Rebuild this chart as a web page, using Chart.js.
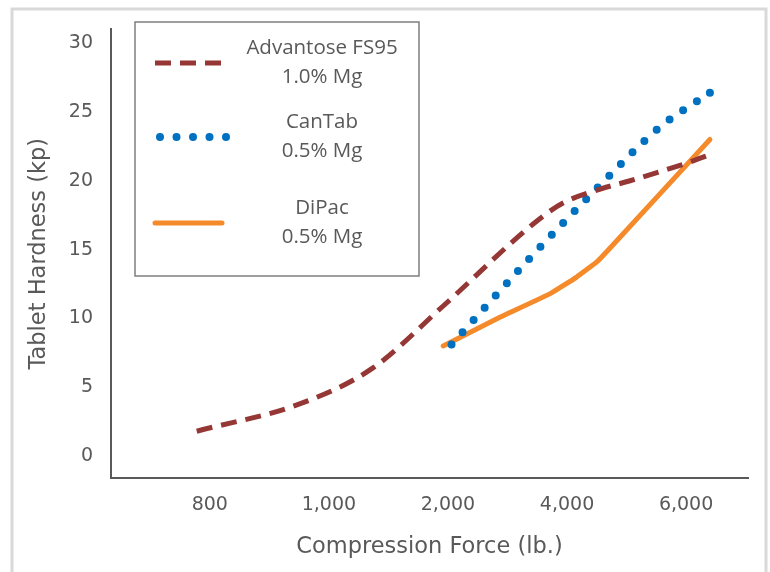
<!DOCTYPE html>
<html lang="en">

<head>
  <title>Tablet Hardness vs Compression Force</title>
  <script src="https://cdn.jsdelivr.net/npm/chart.js"></script>
  <meta charset="utf-8"/>
  <style>
    body {
      margin: 0;
      background: #fff;
    }

    #chart {
      width: 770px;
      height: 572px;
    }
  </style>
</head>

<body>
  <div id="chart">
    <canvas id="my_chart"></canvas>
  </div>

<script>
// x axis: ticks are evenly spaced, x values are in "tick steps" (0 = 800 lb, 4 = 6,000 lb)
var xTickLabels = ['800', '1,000', '2,000', '4,000', '6,000'];
var yTickValues = [0, 5, 10, 15, 20, 25, 30];

var seriesLabels = [
  ['Advantose FS95', '1.0% Mg'],
  ['CanTab', '0.5% Mg'],
  ['DiPac', '0.5% Mg']
];

var advantoseX = [-0.11, 0.76, 1.37, 1.96, 2.75, 2.97, 3.28, 3.53, 4.01, 4.20];
var advantoseY = [1.8, 3.8, 6.4, 10.9, 17.1, 18.4, 19.4, 20.0, 21.3, 21.9];

var cantabX = [2.03, 2.69, 3.28, 3.78, 4.20];
var cantabY = [8.1, 14.4, 19.7, 23.9, 26.4];

var dipacX = [1.96, 2.44, 2.86, 3.08, 3.25, 3.36, 4.20];
var dipacY = [8.0, 10.1, 11.8, 13.0, 14.1, 15.1, 23.0];

const COLORS = ['#953735', '#0070C0', '#F58A2A'];
const TEXT_COLOR = '#595959';

function toPoints (xs, ys) {
  return xs.map((x, i) => ({ x: x, y: ys[i] }));
}

// legend with two centred lines per entry, drawn in a box at the top left
const boxLegend = {
  id: 'boxLegend',
  afterDraw (chart) {
    const ctx = chart.ctx;
    const rowY = [63, 137, 223];
    ctx.save();
    ctx.strokeStyle = '#7f7f7f';
    ctx.lineWidth = 1.5;
    ctx.strokeRect(135, 22, 284, 254);
    chart.data.datasets.forEach((ds, i) => {
      const y = rowY[i];
      ctx.beginPath();
      ctx.strokeStyle = ds.borderColor;
      ctx.lineWidth = ds.borderWidth;
      ctx.lineCap = ds.borderCapStyle || 'butt';
      ctx.setLineDash(ds.borderDash || []);
      if (i === 1) {
        ctx.moveTo(160, y);
        ctx.lineTo(230, y);
      } else {
        ctx.moveTo(155, y);
        ctx.lineTo(222, y);
      }
      ctx.stroke();
      ctx.setLineDash([]);
      ctx.fillStyle = TEXT_COLOR;
      ctx.font = '20.5px "Open Sans"';
      ctx.textAlign = 'center';
      ctx.textBaseline = 'middle';
      ctx.fillText(ds.label[0], 322, y - 15);
      ctx.fillText(ds.label[1], 322, y + 14);
    });
    ctx.restore();
  }
};

const outerFrame = {
  id: 'outerFrame',
  beforeDraw (chart) {
    const ctx = chart.ctx;
    ctx.save();
    ctx.strokeStyle = '#d9d9d9';
    ctx.lineWidth = 3;
    ctx.strokeRect(12, 9, 754, 620);
    ctx.restore();
  }
};

window.onload = function () {
  const data = {
    datasets: [
      {
        label: seriesLabels[0],
        data: toPoints(advantoseX, advantoseY),
        borderColor: COLORS[0],
        borderWidth: 5,
        borderDash: [16, 9],
        cubicInterpolationMode: 'monotone',
        pointRadius: 0
      },
      {
        label: seriesLabels[1],
        data: toPoints(cantabX, cantabY),
        borderColor: COLORS[1],
        backgroundColor: COLORS[1],
        borderWidth: 8,
        borderDash: [0, 16.5],
        borderCapStyle: 'round',
        cubicInterpolationMode: 'monotone',
        // the dotted pattern does not land on the last value, so mark it
        pointRadius: (c) => (c.dataIndex === cantabX.length - 1 ? 4 : 0),
        pointBorderWidth: 0
      },
      {
        label: seriesLabels[2],
        data: toPoints(dipacX, dipacY),
        borderColor: COLORS[2],
        borderWidth: 5,
        borderCapStyle: 'round',
        borderJoinStyle: 'round',
        tension: 0.1,
        pointRadius: 0
      }
    ]
  };

  const config = {
    type: 'line',
    data: data,
    options: {
      responsive: true,
      maintainAspectRatio: false,
      animation: false,
      layout: {
        padding: { left: 14, top: 21, right: 22, bottom: 0 }
      },
      plugins: {
        legend: { display: false },
        tooltip: { enabled: false }
      },
      scales: {
        x: {
          type: 'linear',
          min: -0.83,
          max: 4.52,
          afterBuildTicks: (scale) => {
            scale.ticks = xTickLabels.map((_, i) => ({ value: i }));
          },
          afterFit: (scale) => { scale.height = 94; },
          grid: { display: false, drawTicks: false },
          border: { color: TEXT_COLOR, width: 2 },
          ticks: {
            autoSkip: false,
            maxRotation: 0,
            padding: 16,
            color: TEXT_COLOR,
            font: { family: 'DejaVu Sans', size: 19 },
            callback: (value) => xTickLabels[value]
          },
          title: {
            display: true,
            text: 'Compression Force (lb.)',
            color: TEXT_COLOR,
            padding: { top: 0, bottom: 11 },
            font: { family: 'DejaVu Sans', size: 22.5 }
          }
        },
        y: {
          min: -1.6,
          max: 31,
          afterBuildTicks: (scale) => {
            scale.ticks = yTickValues.map((v) => ({ value: v }));
          },
          afterFit: (scale) => { scale.width = 97; },
          grid: { display: false, drawTicks: false },
          border: { color: TEXT_COLOR, width: 2 },
          ticks: {
            padding: 18,
            color: TEXT_COLOR,
            font: { family: 'DejaVu Sans', size: 19 }
          },
          title: {
            display: true,
            text: 'Tablet Hardness (kp)',
            color: TEXT_COLOR,
            padding: { top: 12, bottom: 0 },
            font: { family: 'DejaVu Sans', size: 22.5 }
          }
        }
      }
    },
    plugins: [outerFrame, boxLegend]
  };

  const ctx = document.getElementById('my_chart').getContext('2d');
  new Chart(ctx, config);
}
</script>

</body>

</html>
